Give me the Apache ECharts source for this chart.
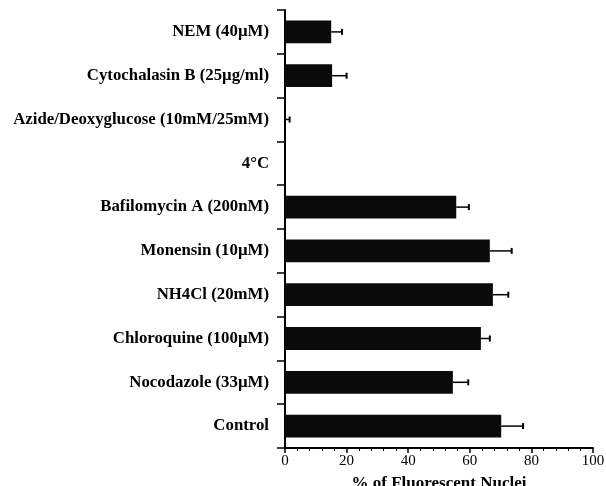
<!DOCTYPE html>
<html><head><meta charset="utf-8">
<script src="https://cdn.jsdelivr.net/npm/echarts@6/dist/echarts.min.js"></script>
<style>html,body{margin:0;padding:0;background:#fff}#c{width:606px;height:486px}</style>
</head><body><div id="c"></div>
<script>
const categories = ["NEM (40µM)", "Cytochalasin B (25µg/ml)", "Azide/Deoxyglucose (10mM/25mM)", "4°C", "Bafilomycin A (200nM)", "Monensin (10µM)", "NH4Cl (20mM)", "Chloroquine (100µM)", "Nocodazole (33µM)", "Control"];
const values = [15, 15.3, 0, 0, 55.6, 66.5, 67.5, 63.6, 54.5, 70.2];
const errors = [3.5, 4.7, 1.5, 0, 4.1, 7.1, 5, 2.9, 5, 7.1];
const xTicks = [0, 20, 40, 60, 80, 100];

const chart = echarts.init(document.getElementById('c'));
const font = '"Liberation Serif", "Times New Roman", serif';
chart.setOption({
  animation: false,
  grid: {left: 285, right: 13, top: 10, bottom: 38, containLabel: false, outerBoundsMode: 'none'},
  xAxis: {
    type: 'value', min: xTicks[0], max: xTicks[xTicks.length - 1], interval: 20,
    name: '% of Fluorescent Nuclei', nameLocation: 'middle', nameGap: 27,
    nameTextStyle: {fontFamily: font, fontWeight: 'bold', fontSize: 17, color: '#000'},
    axisLine: {show: true, lineStyle: {color: '#000', width: 2}},
    axisTick: {show: true, length: 5, lineStyle: {color: '#000', width: 1.5}},
    minorTick: {show: true, splitNumber: 5, length: 3, lineStyle: {color: '#000', width: 1}},
    axisLabel: {fontFamily: font, fontSize: 15, color: '#000', margin: 6},
    splitLine: {show: false}
  },
  yAxis: {
    type: 'category', data: categories, inverse: true,
    axisLine: {show: true, lineStyle: {color: '#000', width: 2}},
    axisTick: {show: true, length: 8, alignWithLabel: false, lineStyle: {color: '#000', width: 1.5}},
    axisLabel: {fontFamily: font, fontWeight: 'bold', fontSize: 16.8, color: '#000', margin: 16}
  },
  series: [
    {type: 'bar', data: values, barCategoryGap: '48%', itemStyle: {color: '#0a0a0a'}, z: 2},
    {
      type: 'custom', z: 3,
      data: values.map((v, i) => [v, i, errors[i]]),
      renderItem: function (params, api) {
        const v = api.value(0), idx = api.value(1), e = api.value(2);
        if (!e) return null;
        const p0 = api.coord([v, idx]);
        const p1 = api.coord([v + e, idx]);
        const h = 3;
        return {type: 'group', children: [
          {type: 'line', shape: {x1: p0[0], y1: p0[1], x2: p1[0], y2: p1[1]}, style: {stroke: '#000', lineWidth: 1.5}},
          {type: 'line', shape: {x1: p1[0], y1: p1[1] - h, x2: p1[0], y2: p1[1] + h}, style: {stroke: '#000', lineWidth: 2}}
        ]};
      }
    }
  ]
});
</script></body></html>
